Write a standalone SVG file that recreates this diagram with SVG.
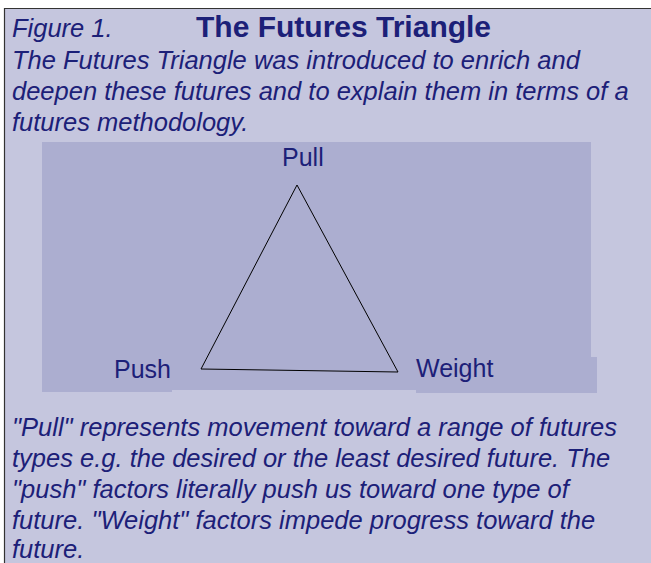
<svg xmlns="http://www.w3.org/2000/svg" width="651" height="563" viewBox="0 0 651 563">
<style>
.t{font-family:"Liberation Sans",Arial,sans-serif;fill:#1c2078;}
.i{font-style:italic;font-size:25.5px;}
.lbl{font-size:25px;}
</style>
<rect x="0" y="0" width="651" height="563" fill="#ffffff"/>
<rect x="4" y="8" width="647" height="555" fill="#c5c6de"/>
<path d="M4.5,563 V8.5 H651" fill="none" stroke="#333" stroke-width="1.2"/>
<g id="panel">
<path d="M42,142 H591 V357 H597 V393 H416 V390 H172 V392 H42 Z" fill="#acaed0"/>
</g>
<g id="header">
<text class="t i" x="12" y="37" font-size="25">Figure 1.</text>
<text class="t" x="196" y="37" font-size="30" font-weight="bold">The Futures Triangle</text>
<text class="t i" x="12" y="69">The Futures Triangle was introduced to enrich and</text>
<text class="t i" x="12" y="100">deepen these futures and to explain them in terms of a</text>
<text class="t i" x="12" y="131">futures methodology.</text>
</g>
<g id="connectors">
<path d="M297,185 L201,369 L398,372 Z" fill="none" stroke="#000" stroke-width="1"/>
</g>
<g id="pull"><text class="t lbl" x="282" y="166">Pull</text></g>
<g id="push"><text class="t lbl" x="114" y="378">Push</text></g>
<g id="weight"><text class="t lbl" x="416" y="377">Weight</text></g>
<g id="caption">
<text class="t i" x="12" y="436">"Pull" represents movement toward a range of futures</text>
<text class="t i" x="12" y="467">types e.g. the desired or the least desired future. The</text>
<text class="t i" x="12" y="498">"push" factors literally push us toward one type of</text>
<text class="t i" x="12" y="529">future. "Weight" factors impede progress toward the</text>
<text class="t i" x="12" y="558">future.</text>
</g>
</svg>
